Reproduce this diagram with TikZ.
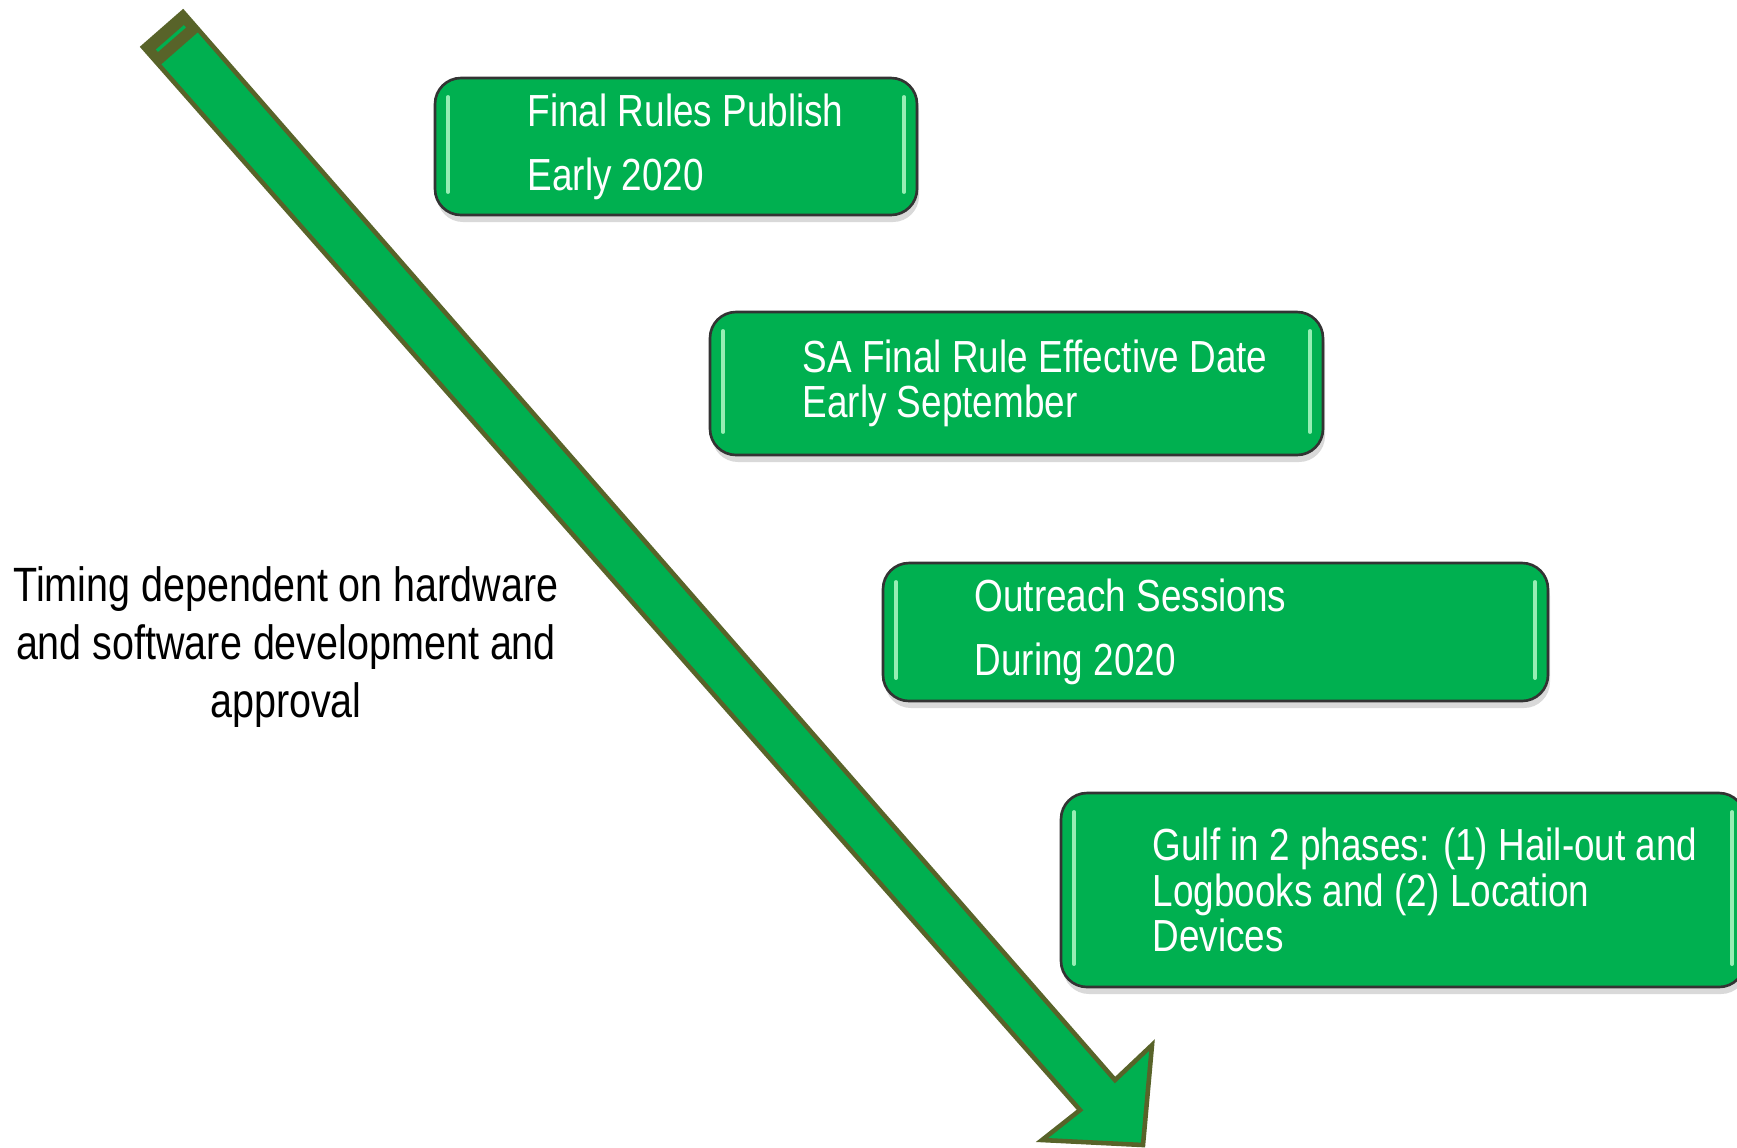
\documentclass[tikz,border=0pt]{standalone}
\usepackage{fontspec}
\setmainfont{Liberation Sans}[FakeStretch=0.82]
\usetikzlibrary{positioning,shadows}
\definecolor{boxgreen}{RGB}{0,176,80}
\definecolor{arrowolive}{RGB}{88,99,41}
\definecolor{glint}{RGB}{150,238,180}
\begin{document}
\begin{tikzpicture}[x=0.1mm,y=-0.1mm]
  \tikzstyle{stepbox}=[draw=black!80,line width=0.75pt,fill=boxgreen,rounded corners=2.6mm,
    inner sep=0pt,outer sep=0pt,
    drop shadow={shadow xshift=0.2mm,shadow yshift=-0.7mm,opacity=0.3},
    path picture={
      \draw[glint,line width=1.1pt,line cap=round]
        ([xshift=1.3mm,yshift=-1.9mm]path picture bounding box.north west) --
        ([xshift=1.3mm,yshift=2.3mm]path picture bounding box.south west);
      \draw[glint,line width=1.1pt,line cap=round]
        ([xshift=-1.3mm,yshift=-1.9mm]path picture bounding box.north east) --
        ([xshift=-1.3mm,yshift=2.3mm]path picture bounding box.south east);}]
  \tikzstyle{steptext}=[text=white,align=left,inner sep=0pt,font=\fontsize{12.8}{18.2}\selectfont]
  \tikzstyle{tighttext}=[steptext,font=\fontsize{12.8}{13}\selectfont]
  \useasboundingbox (0,0) rectangle (1737,1147);
  \draw[arrowolive,line width=1.3pt,fill=boxgreen,line join=miter]
    (183,12) -- (1115,1080) -- (1152,1045) -- (1143,1145) -- (1042,1140)
    -- (1080,1110) -- (143,47) -- cycle;
  \fill[arrowolive] (183,12) -- (143,47) -- (159.5,65.8) -- (199.5,30.8) -- cycle;
  \draw[boxgreen,line width=0.9pt] (184.9,26.3) -- (156.9,50.7);
  \node[stepbox,minimum width=48.2mm,minimum height=13.7mm] (publish) at (676,146.5) {};
  \node[steptext,right=9.2mm of publish.west] (publishtext) {Final Rules Publish\\Early 2020};
  \node[stepbox,minimum width=61.3mm,minimum height=14.3mm] (effective) at (1016.5,383.5) {};
  \node[tighttext,right=9.2mm of effective.west] (effectivetext) {SA Final Rule Effective Date\\Early September};
  \node[stepbox,minimum width=66.5mm,minimum height=13.8mm] (outreach) at (1215.5,632) {};
  \node[steptext,right=9.1mm of outreach.west] (outreachtext) {Outreach Sessions\\During 2020};
  \node[stepbox,minimum width=68.4mm,minimum height=19.4mm] (gulf) at (1403,890) {};
  \node[tighttext,right=9.1mm of gulf.west] (gulftext) {Gulf in 2 phases: (1) Hail-out and\\Logbooks and (2) Location\\Devices};
  \node[align=center,inner sep=0pt,font=\fontsize{13.7}{16.4}\selectfont] (timing) at (286,647)
    {Timing dependent on hardware\\and software development and\\approval};
\end{tikzpicture}
\end{document}
